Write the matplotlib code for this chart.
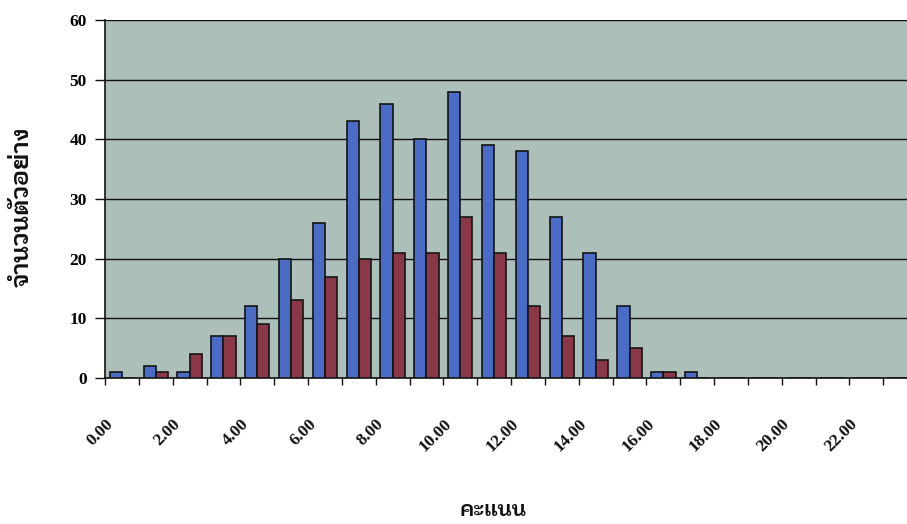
import numpy as np
import matplotlib
matplotlib.use("Agg")
import matplotlib.pyplot as plt
from matplotlib import font_manager

# score categories 0..23, labelled every second one
scores = list(range(24))
tick_labels = [f"{s:.2f}" for s in scores[::2]]

# sample counts per score for the two groups
group_blue = [1, 2, 1, 7, 12, 20, 26, 43, 46, 40, 48, 39, 38, 27, 21, 12, 1, 1, 0, 0, 0, 0, 0, 0]
group_red = [0, 1, 4, 7, 9, 13, 17, 20, 21, 21, 27, 21, 12, 7, 3, 5, 1, 0, 0, 0, 0, 0, 0, 0]

y_label = "จำนวนตัวอย่าง"
x_label = "คะแนน"


def thai_family():
    """Return the name of an installed family that has Thai glyphs."""
    try:
        from fontTools.ttLib import TTFont
    except Exception:
        return None
    preferred = []
    others = []
    for path in font_manager.findSystemFonts():
        try:
            tt = TTFont(path, fontNumber=0, lazy=True)
            cmap = tt.getBestCmap() or {}
            if ord("จ") in cmap and ord("ะ") in cmap:
                name = font_manager.FontProperties(fname=path).get_name()
                low = path.lower()
                if "bold" in low:
                    preferred.append(name)
                else:
                    others.append(name)
        except Exception:
            continue
    for lst in (preferred, others):
        if lst:
            return lst[0]
    return None


thai = thai_family()
thai_fams = ([thai] if thai else []) + ["DejaVu Sans"]

fig = plt.figure(figsize=(9.07, 5.24), dpi=100)
fig.patch.set_facecolor("white")
ax = fig.add_axes([105 / 907, 1 - 378 / 524, 1 - 105 / 907, (378 - 20) / 524])
ax.set_facecolor("#acbfb9")

x = np.arange(len(scores))
w = 0.36
ax.bar(x - 0.18, group_blue, width=w, color="#4b6cc6", edgecolor="#141414",
       linewidth=1.2, zorder=3)
ax.bar(x + 0.18, group_red, width=w, color="#8a3848", edgecolor="#141414",
       linewidth=1.2, zorder=3)

ax.set_ylim(0, 60)
ax.set_xlim(-0.5, 23.2)
ax.set_yticks(range(0, 61, 10))
ax.yaxis.grid(True, color="#111111", linewidth=1.0, zorder=1)
ax.set_axisbelow(True)

# tick marks sit on category boundaries, labels on every second category
ax.set_xticks(np.arange(-0.5, 23.5, 1.0))
ax.set_xticklabels([])
ax.tick_params(axis="x", length=5, width=1, color="#111111", direction="out")
ax.tick_params(axis="y", length=7, width=1, color="#111111", direction="out",
               labelsize=12.5, pad=6)
for lbl in ax.get_yticklabels():
    lbl.set_fontfamily("Liberation Serif")
    lbl.set_fontweight("bold")

for s, text in zip(scores[::2], tick_labels):
    ax.text(s - 0.5, -6.4, text, rotation=45, ha="right", va="top",
            rotation_mode="anchor", fontsize=12.5, fontfamily="Liberation Serif",
            fontweight="bold", color="#111111", clip_on=False)

for side in ("top", "right"):
    ax.spines[side].set_visible(False)
ax.spines["left"].set_color("#111111")
ax.spines["bottom"].set_color("#111111")
ax.spines["left"].set_linewidth(1.2)
ax.spines["bottom"].set_linewidth(1.2)

fig.text(22 / 907, 1 - 207 / 524, y_label, rotation=90, ha="center", va="center",
         fontsize=18, fontweight="bold", family=thai_fams, color="#111111")
fig.text(493 / 907, 1 - 510 / 524, x_label, ha="center", va="center",
         fontsize=15.5, fontweight="bold", family=thai_fams, color="#111111")

fig.savefig("out.png", dpi=100, facecolor="white")
